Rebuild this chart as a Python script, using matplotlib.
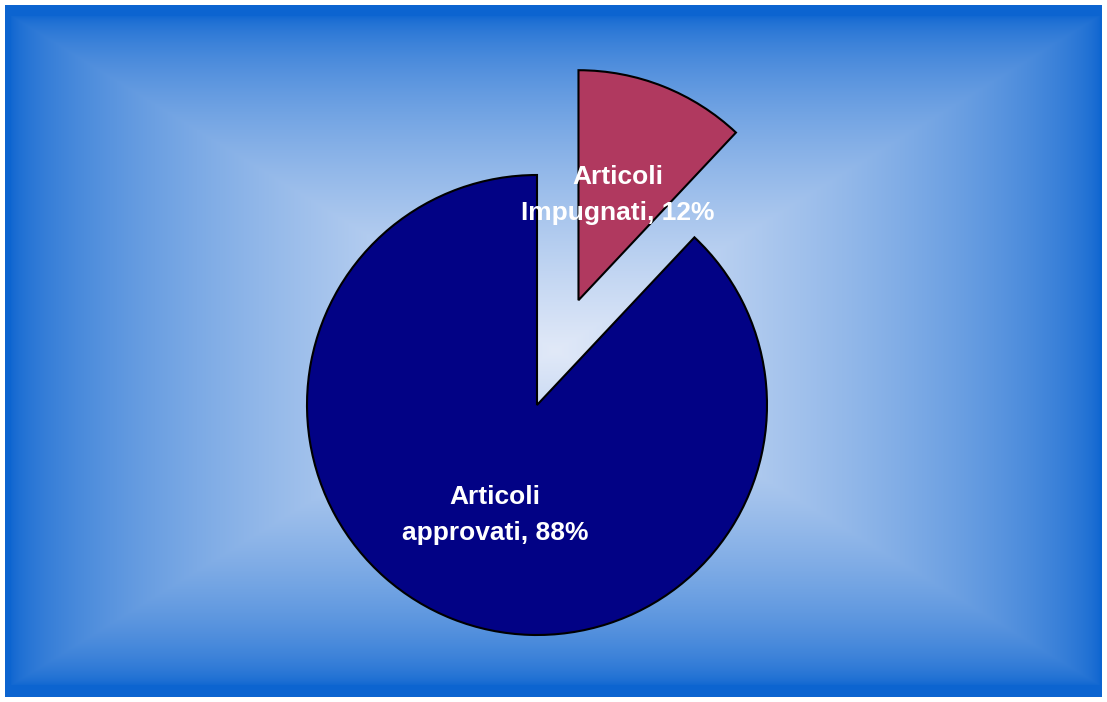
import numpy as np
import matplotlib.pyplot as plt

plt.rcParams['font.family'] = ['Liberation Sans', 'DejaVu Sans']

# Quote di articoli
etichette = ['Articoli\nImpugnati', 'Articoli\napprovati']
valori = [12, 88]
colori = ['#b0395f', '#020285']
esplosione = [0.49, 0.0]  # frazione del raggio

W, H = 1107, 702
raggio = 230
fig = plt.figure(figsize=(W / 100, H / 100), dpi=100, facecolor='white')

# Sfondo con sfumatura rettangolare dal centro verso i bordi
bg = fig.add_axes([5 / W, 5 / H, 1097 / W, 692 / H])
yy, xx = np.mgrid[0:692, 0:1097]
fx = np.clip(1 - np.abs(xx - 550) / 545, 0, 1) ** 0.6
fy = np.clip(1 - np.abs(yy - 345) / 335, 0, 1) ** 0.6
f = np.minimum(fx, fy)
chiaro = np.array([225, 233, 248]) / 255
blu = np.array([12, 100, 208]) / 255
img = blu + (chiaro - blu) * f[..., None]
bg.imshow(img, aspect='auto', interpolation='bilinear')
bg.axis('off')

# Torta in coordinate pixel della figura
ax = fig.add_axes([0, 0, 1, 1])
ax.patch.set_alpha(0)
ax.pie(valori, colors=colori, explode=[e * raggio for e in esplosione],
       startangle=90, counterclock=False, center=(537, H - 405), radius=raggio,
       wedgeprops=dict(edgecolor='black', linewidth=1.5))
ax.set_xlim(0, W)
ax.set_ylim(0, H)
ax.set_aspect('equal')
ax.axis('off')

# Etichette dei dati
posizioni = [(618, H - 195), (495, H - 515)]
for lab, val, (x, y) in zip(etichette, valori, posizioni):
    ax.text(x, y, f'{lab}, {val}%', color='white', fontsize=19,
            fontweight='bold', ha='center', va='center', linespacing=1.6)

fig.savefig('out.png', dpi=100, facecolor='white')
